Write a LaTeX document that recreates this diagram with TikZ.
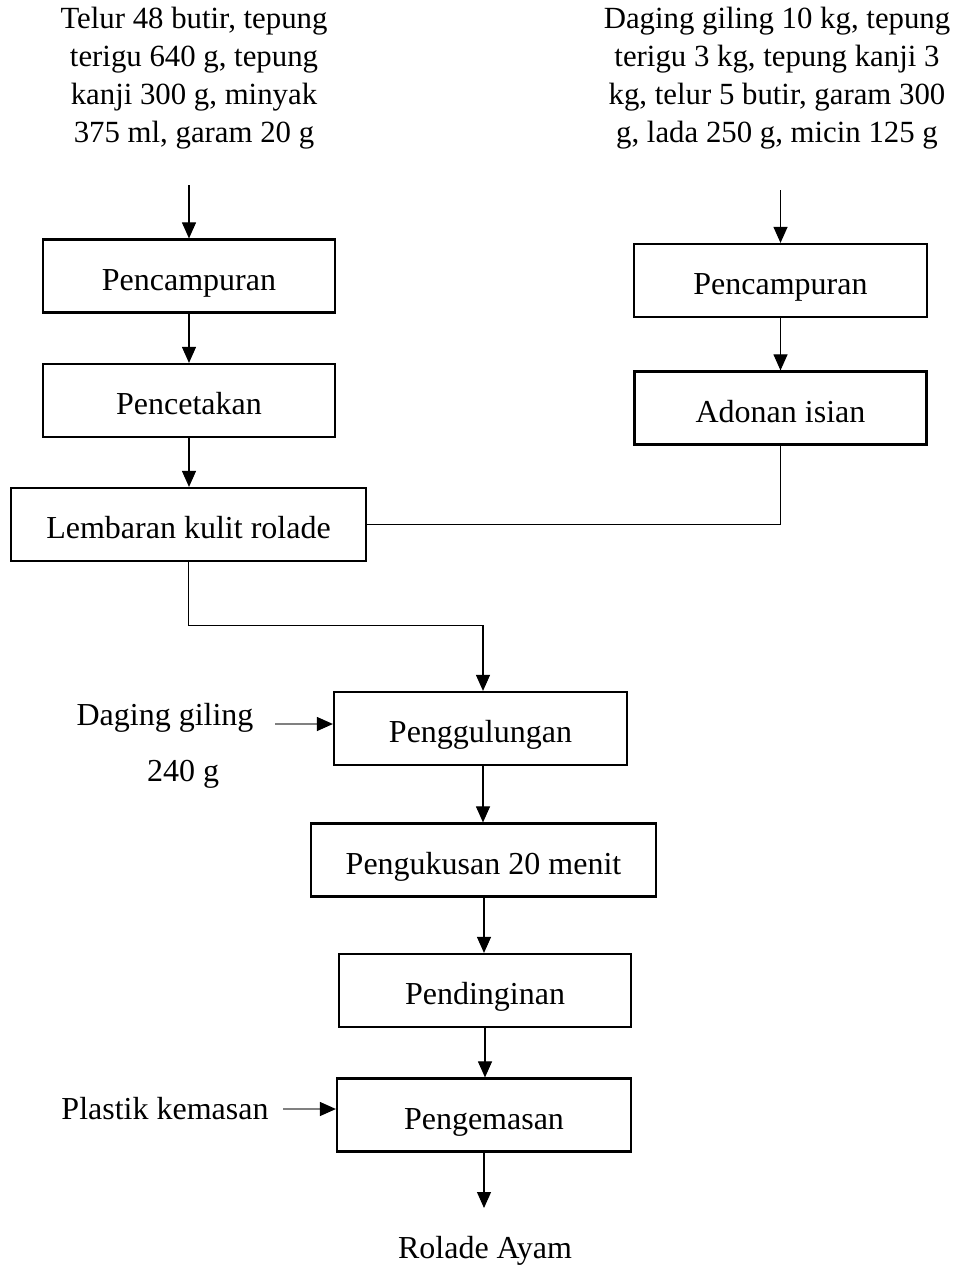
\documentclass[tikz,border=0pt]{standalone}
\usepackage{fontspec}
\setmainfont{Liberation Serif}
\usetikzlibrary{arrows.meta}
\begin{document}
\begin{tikzpicture}[x=0.5pt,y=-0.5pt,
  every node/.style={font=\fontsize{16}{19}\selectfont},
  procbox/.style={draw, line width=1.1pt, inner sep=0pt, minimum height=36.5pt,
    text height=16pt, text depth=2pt},
  txt/.style={align=center, inner sep=0pt},
  listtxt/.style={txt, font=\fontsize{15.4}{19}\selectfont},
  flow/.style={line width=0.55pt, -{Triangle[width=7pt,length=8pt]}},
  feed/.style={line width=0.6pt, draw=gray, -{Triangle[width=7pt,length=8pt,color=black]}},
  plain/.style={line width=0.55pt}]
\useasboundingbox (0,0) rectangle (964,1268);

% raw material lists
\node[listtxt] (t1) at (194,78) {Telur 48 butir, tepung\\terigu 640 g, tepung\\kanji 300 g, minyak\\375 ml, garam 20 g};
\node[listtxt] (t2) at (777,78) {Daging giling 10 kg, tepung\\terigu 3 kg, tepung kanji 3\\kg, telur 5 butir, garam 300\\g, lada 250 g, micin 125 g};
\coordinate (in1) at (189,185);
\coordinate (in2) at (780.5,190);

% skin line
\node[procbox, minimum width=146pt] (pc1) at (189,276) {Pencampuran};
\node[procbox, minimum width=146pt] (pct) at (189,400.5) {Pencetakan};
\node[procbox, minimum width=177.5pt] (lkr) at (188.5,524.5) {Lembaran kulit rolade};

% filling line
\node[procbox, minimum width=146.5pt] (pc2) at (780.5,280.5) {Pencampuran};
\node[procbox, minimum width=146pt] (adn) at (780.5,408) {Adonan isian};

% main line
\node[procbox, minimum width=146.5pt] (pgl) at (480.5,728.5) {Penggulungan};
\node[procbox, minimum width=172.5pt] (pks) at (483.5,860) {Pengukusan 20 menit};
\node[procbox, minimum width=146pt] (pdn) at (485,990.5) {Pendinginan};
\node[procbox, minimum width=147pt] (pgm) at (484,1115) {Pengemasan};

% side inputs and product
\node[txt] (dg) at (165,718) {Daging giling};
\node[txt] (dgq) at (183,774) {240 g};
\coordinate (dgin) at (275,724);
\node[txt] (pk) at (165,1109) {Plastik kemasan};
\coordinate (pkin) at (283,1109);
\coordinate (out) at (484,1208);
\node[txt] (ra) at (485,1251) {Rolade Ayam};

% connectors
\draw[flow] (in1) -- (pc1.north);
\draw[flow] (pc1) -- (pct);
\draw[flow] (pct) -- (lkr.north -| pct);
\draw[flow] (in2) -- (pc2.north);
\draw[flow] (pc2) -- (adn);
\draw[plain] (adn.south) |- (lkr.east);
\draw[flow] (lkr.south) -- ++(0,63) -| (pgl.north -| 483,0);
\draw[flow] (pgl.south -| 483,0) -- (pks.north -| 483,0);
\draw[flow] (pks.south -| 484,0) -- (pdn.north -| 484,0);
\draw[flow] (pdn.south) -- (pgm.north -| pdn);
\draw[flow] (pgm.south) -- (out);
\draw[feed] (dgin) -- (dgin -| pgl.west);
\draw[feed] (pkin) -- (pkin -| pgm.west);
\end{tikzpicture}
\end{document}
